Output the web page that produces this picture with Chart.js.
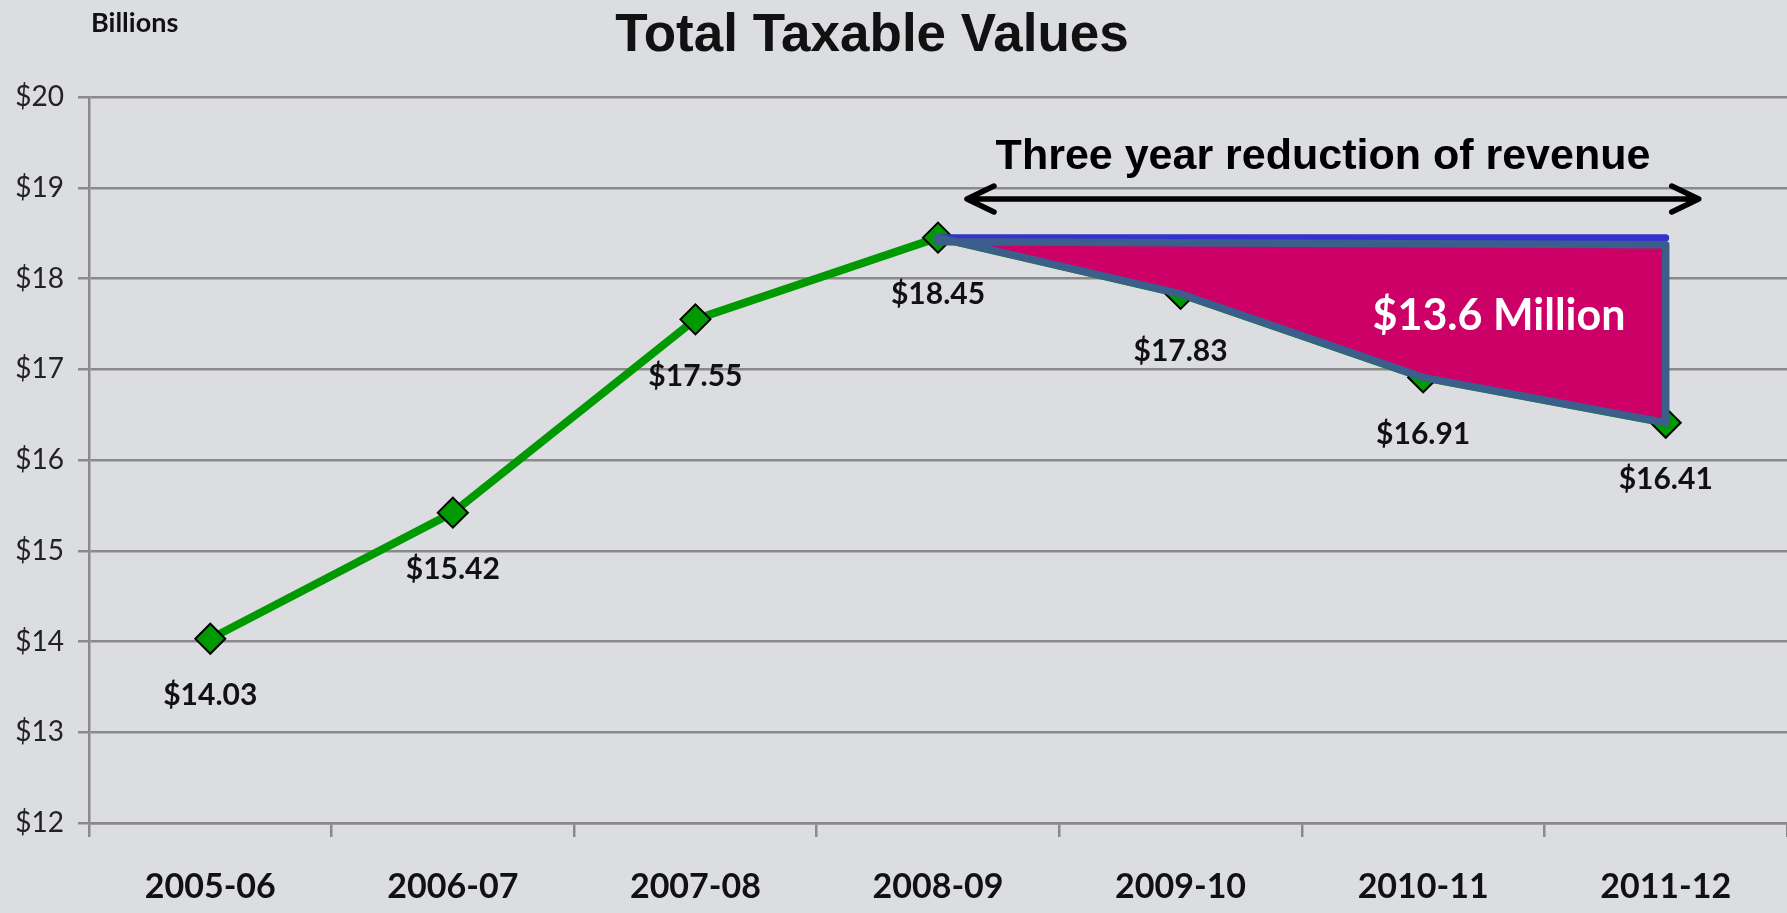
<!DOCTYPE html>
<html lang="en">
<head>
<meta charset="UTF-8">
<title>Total Taxable Values</title>
<script src="https://cdn.jsdelivr.net/npm/chart.js"></script>
<style>
  body {
    margin: 0;
    background: #dcdde0;
    overflow: hidden;
  }
  #chart {
    display: block;
  }
</style>
</head>
<body>
<canvas id="chart" width="1787" height="913"></canvas>
<script>
  const years = ['2005-06', '2006-07', '2007-08', '2008-09', '2009-10', '2010-11', '2011-12'];
  const taxableValues = [14.03, 15.42, 17.55, 18.45, 17.83, 16.91, 16.41];
  // the level values would have kept after the 2008-09 peak
  const peakLine = [null, null, null, 18.45, 18.45, 18.45, 18.45];
  const yMin = 12;
  const yMax = 20;
  const yStep = 1;
  const reductionText = '$13.6 Million';
  const arrowText = 'Three year reduction of revenue';

  const bodyFont = 'Lato, "Open Sans", sans-serif';
  const titleFont = '"Liberation Sans", Arial, sans-serif';
  const gridColor = '#8a8a8a';

  // polygon, arrow, value labels and the loose texts
  const overlay = {
    id: 'overlay',
    afterDatasetsDraw(chart) {
      const ctx = chart.ctx;
      const x = chart.scales.x;
      const y = chart.scales.y;
      const first = peakLine.findIndex(v => v !== null);
      const last = peakLine.length - 1;

      ctx.save();

      // reduction area between the peak level and the actual values
      ctx.beginPath();
      ctx.moveTo(x.getPixelForValue(first), y.getPixelForValue(peakLine[first]) + 4);
      ctx.lineTo(x.getPixelForValue(last), y.getPixelForValue(peakLine[last]) + 7);
      for (let i = last; i >= first; i--) {
        ctx.lineTo(x.getPixelForValue(i), y.getPixelForValue(taxableValues[i]));
      }
      ctx.closePath();
      ctx.fillStyle = '#cc0066';
      ctx.fill();
      ctx.lineWidth = 7.5;
      ctx.lineJoin = 'round';
      ctx.strokeStyle = '#3b5e8c';
      ctx.stroke();

      ctx.fillStyle = '#ffffff';
      ctx.font = 'bold 43px ' + bodyFont;
      ctx.textAlign = 'center';
      ctx.textBaseline = 'middle';
      ctx.fillText(reductionText, 1499, 316);

      // double arrow over the three years
      const ax1 = x.getPixelForValue(first) + 29;
      const ax2 = x.getPixelForValue(last) + 33;
      const ay = 199;
      ctx.strokeStyle = '#000000';
      ctx.lineWidth = 5.5;
      ctx.lineCap = 'round';
      ctx.beginPath();
      ctx.moveTo(ax1, ay);
      ctx.lineTo(ax2, ay);
      ctx.moveTo(ax1 + 27, ay - 13);
      ctx.lineTo(ax1, ay);
      ctx.lineTo(ax1 + 27, ay + 13);
      ctx.moveTo(ax2 - 27, ay - 13);
      ctx.lineTo(ax2, ay);
      ctx.lineTo(ax2 - 27, ay + 13);
      ctx.stroke();

      ctx.fillStyle = '#000000';
      ctx.font = 'bold 43px ' + titleFont;
      ctx.textBaseline = 'alphabetic';
      ctx.fillText(arrowText, 1323, 169);

      // value labels under each point
      ctx.fillStyle = '#111111';
      ctx.font = 'bold 30px ' + bodyFont;
      ctx.textBaseline = 'middle';
      taxableValues.forEach((v, i) => {
        ctx.fillText('$' + v.toFixed(2), x.getPixelForValue(i), y.getPixelForValue(v) + 57);
      });

      // title and unit
      ctx.font = 'bold 53px ' + titleFont;
      ctx.textBaseline = 'alphabetic';
      ctx.fillText('Total Taxable Values', 872, 51);

      ctx.font = 'bold 27px ' + bodyFont;
      ctx.textAlign = 'left';
      ctx.textBaseline = 'middle';
      ctx.fillText('Billions', 91, 23);

      ctx.restore();
    }
  };

  new Chart(document.getElementById('chart'), {
    type: 'line',
    data: {
      labels: years,
      datasets: [{
        label: 'Peak level',
        data: peakLine,
        borderColor: '#3333cc',
        borderWidth: 7,
        borderCapStyle: 'round',
        pointRadius: 0,
        fill: false,
        order: 1
      }, {
        label: 'Total Taxable Values',
        data: taxableValues,
        borderColor: '#009a00',
        borderWidth: 8,
        borderJoinStyle: 'round',
        tension: 0,
        pointStyle: 'rectRot',
        pointRadius: 15,
        pointBackgroundColor: '#009a00',
        pointBorderColor: '#000000',
        pointBorderWidth: 2,
        fill: false,
        order: 2
      }]
    },
    options: {
      responsive: false,
      animation: false,
      events: [],
      layout: {
        autoPadding: false,
        padding: { top: 97, right: 0, bottom: 0, left: 0 }
      },
      plugins: {
        legend: { display: false },
        tooltip: { enabled: false },
        title: { display: false }
      },
      scales: {
        x: {
          offset: true,
          afterFit(scale) {
            scale.height = 90;
          },
          border: { display: true, color: gridColor, width: 2.5 },
          grid: {
            offset: true,
            drawOnChartArea: false,
            drawTicks: true,
            tickLength: 14,
            color: gridColor,
            lineWidth: 2.5
          },
          ticks: {
            color: '#111111',
            padding: 30,
            font: { family: bodyFont, size: 34, weight: 'bold' }
          }
        },
        y: {
          min: yMin,
          max: yMax,
          afterFit(scale) {
            scale.width = 89;
          },
          border: { display: true, color: gridColor, width: 2.5 },
          grid: {
            color: gridColor,
            lineWidth: 2.5,
            tickLength: 11
          },
          ticks: {
            stepSize: yStep,
            color: '#222222',
            padding: 14,
            font: { family: bodyFont, size: 28 },
            callback: v => '$' + v
          }
        }
      }
    },
    plugins: [overlay]
  });
</script>
</body>
</html>
